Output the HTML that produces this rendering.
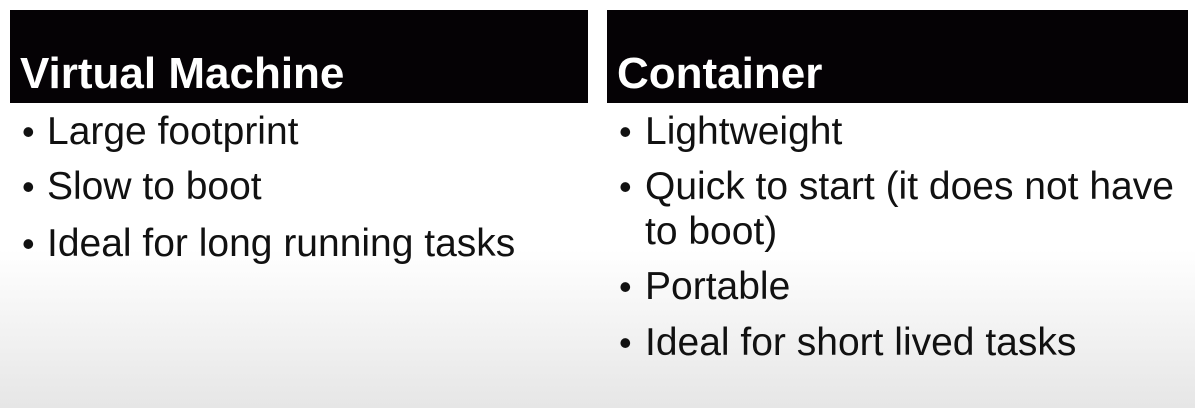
<!DOCTYPE html>
<html><head><style>
html,body{margin:0;padding:0}
body{width:1195px;height:408px;position:relative;overflow:hidden;background:linear-gradient(to bottom,#fff 0px,#fff 250px,#e6e6e6 408px);font-family:"Liberation Sans",sans-serif;}
.h{position:absolute;top:10px;height:93px;background:#050205;color:#fff;font-weight:bold;font-size:44px;}
.h span{position:absolute;left:10px;top:40px;line-height:48px;}
.t{position:absolute;font-size:39px;color:#111;line-height:40px;white-space:nowrap}
.b{position:absolute;font-size:36px;color:#111;line-height:40px}
</style></head><body>
<div class="h" style="left:10px;width:578px"><span>Virtual Machine</span></div>
<div class="h" style="left:607px;width:581px"><span>Container</span></div>

<div class="b" style="left:22px;top:112px">•</div><div class="t" style="left:47px;top:112px">Large footprint</div>
<div class="b" style="left:22px;top:167px">•</div><div class="t" style="left:47px;top:167px">Slow to boot</div>
<div class="b" style="left:22px;top:224px">•</div><div class="t" style="left:47px;top:224px">Ideal for long running tasks</div>

<div class="b" style="left:619px;top:112px">•</div><div class="t" style="left:645px;top:112px">Lightweight</div>
<div class="b" style="left:619px;top:167px">•</div><div class="t" style="left:645px;top:167px">Quick to start (it does not have</div>
<div class="t" style="left:645px;top:212px">to boot)</div>
<div class="b" style="left:619px;top:267px">•</div><div class="t" style="left:645px;top:267px">Portable</div>
<div class="b" style="left:619px;top:323px">•</div><div class="t" style="left:645px;top:323px">Ideal for short lived tasks</div>
</body></html>
